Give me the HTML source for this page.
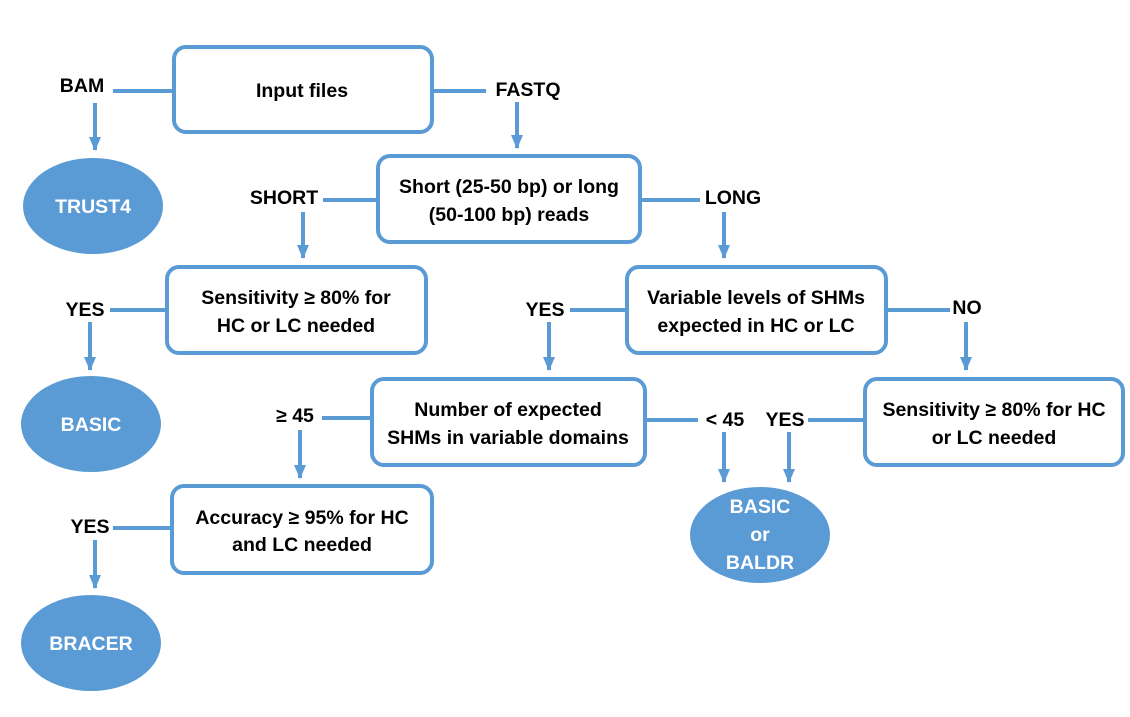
<!DOCTYPE html>
<html><head><meta charset="utf-8"><style>
html,body{margin:0;padding:0;background:#fff}
svg text{font-family:"Liberation Sans",sans-serif;font-weight:bold;font-size:19.5px;text-anchor:middle;dominant-baseline:central}
</style></head><body>
<svg width="1130" height="712" viewBox="0 0 1130 712" xmlns="http://www.w3.org/2000/svg">
<defs>
<marker id="b" viewBox="0 0 14 12" markerWidth="14" markerHeight="13" refX="13" refY="6" orient="auto" markerUnits="userSpaceOnUse"><path d="M0,0 L14,6 L0,12 z" fill="#5b9bd5"/></marker></defs>
<g fill="none" stroke="#5b9bd5" stroke-width="4">
<rect x="174" y="47" width="258" height="85" rx="12"/>
<rect x="378" y="156" width="262" height="86" rx="12"/>
<rect x="167" y="267" width="259" height="86" rx="12"/>
<rect x="627" y="267" width="259" height="86" rx="12"/>
<rect x="372" y="379" width="273" height="86" rx="12"/>
<rect x="865" y="379" width="258" height="86" rx="12"/>
<rect x="172" y="486" width="260" height="87" rx="12"/>
</g>
<g stroke="#5b9bd5" stroke-width="4">
<line x1="113" y1="91" x2="174" y2="91"/><line x1="432" y1="91" x2="486" y2="91"/>
<line x1="323" y1="200" x2="378" y2="200"/><line x1="640" y1="200" x2="700" y2="200"/>
<line x1="110" y1="310" x2="167" y2="310"/><line x1="570" y1="310" x2="627" y2="310"/><line x1="886" y1="310" x2="950" y2="310"/>
<line x1="322" y1="418" x2="372" y2="418"/><line x1="645" y1="420" x2="698" y2="420"/><line x1="808" y1="420" x2="865" y2="420"/>
<line x1="113" y1="528" x2="172" y2="528"/>
</g>
<g stroke="#5b9bd5" stroke-width="4" marker-end="url(#b)">
<line x1="95" y1="103" x2="95" y2="150"/>
<line x1="517" y1="102" x2="517" y2="148"/>
<line x1="303" y1="212" x2="303" y2="258"/>
<line x1="724" y1="212" x2="724" y2="258"/>
<line x1="90" y1="322" x2="90" y2="370"/>
<line x1="549" y1="322" x2="549" y2="370"/>
<line x1="966" y1="322" x2="966" y2="370"/>
<line x1="300" y1="430" x2="300" y2="478"/>
<line x1="724" y1="432" x2="724" y2="482"/>
<line x1="789" y1="432" x2="789" y2="482"/>
<line x1="95" y1="540" x2="95" y2="588"/>
</g>
<g fill="#5b9bd5">
<ellipse cx="93" cy="206" rx="70" ry="48"/>
<ellipse cx="91" cy="424" rx="70" ry="48"/>
<ellipse cx="760" cy="535" rx="70" ry="48"/>
<ellipse cx="91" cy="643" rx="70" ry="48"/>
</g>
<g fill="#fff">
<text x="93" y="207">TRUST4</text>
<text x="91" y="425">BASIC</text>
<text x="760" y="507">BASIC</text><text x="760" y="535">or</text><text x="760" y="563">BALDR</text>
<text x="91" y="644">BRACER</text>
</g>
<g fill="#000">
<text x="302" y="91">Input files</text>
<text x="82" y="86">BAM</text><text x="528" y="90">FASTQ</text>
<text x="509" y="187">Short (25-50 bp) or long</text><text x="509" y="215">(50-100 bp) reads</text>
<text x="284" y="198">SHORT</text><text x="733" y="198">LONG</text>
<text x="296" y="298">Sensitivity ≥ 80% for</text><text x="296" y="326">HC or LC needed</text>
<text x="85" y="310">YES</text><text x="545" y="310">YES</text><text x="967" y="308">NO</text>
<text x="756" y="298">Variable levels of SHMs</text><text x="756" y="326">expected in HC or LC</text>
<text x="508" y="410">Number of expected</text><text x="508" y="438">SHMs in variable domains</text>
<text x="295" y="416">≥ 45</text><text x="725" y="420">&lt; 45</text><text x="785" y="420">YES</text>
<text x="994" y="410">Sensitivity ≥ 80% for HC</text><text x="994" y="438">or LC needed</text>
<text x="302" y="518">Accuracy ≥ 95% for HC</text><text x="302" y="545">and LC  needed</text>
<text x="90" y="527">YES</text>
</g>
</svg>
</body></html>
